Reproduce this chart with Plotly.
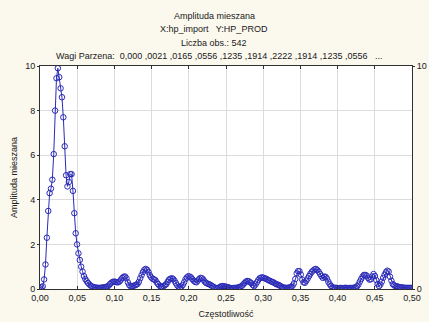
import plotly.graph_objects as go

# Cross-amplitude estimate, one value per Fourier frequency k/N (N = 542)
n_obs = 542
amplitude = [
    0.03, 0.08, 0.12, 0.43, 1.10, 2.30, 3.50, 4.30, 4.50, 4.90,
    6.05, 8.00, 9.45, 9.90, 9.50, 9.00, 8.60, 7.70, 6.40, 5.10,
    4.60, 4.80, 5.15, 5.15, 4.40, 3.40, 2.50, 2.00, 1.60, 1.30,
    1.00, 0.78, 0.58, 0.45, 0.35, 0.27, 0.20, 0.15, 0.11, 0.08,
    0.07, 0.06, 0.05, 0.05, 0.05, 0.06, 0.07, 0.08, 0.09, 0.11,
    0.15, 0.22, 0.28, 0.32, 0.33, 0.32, 0.30, 0.30, 0.34, 0.42,
    0.50, 0.55, 0.56, 0.48, 0.30, 0.18, 0.12, 0.12, 0.14, 0.16,
    0.19, 0.22, 0.32, 0.48, 0.62, 0.76, 0.86, 0.90, 0.86, 0.76,
    0.62, 0.52, 0.46, 0.43, 0.40, 0.30, 0.22, 0.15, 0.10, 0.10,
    0.13, 0.17, 0.22, 0.32, 0.42, 0.46, 0.48, 0.45, 0.37, 0.26,
    0.16, 0.10, 0.07, 0.10, 0.18, 0.30, 0.44, 0.52, 0.57, 0.56,
    0.52, 0.44, 0.37, 0.32, 0.30, 0.38, 0.45, 0.50, 0.48, 0.42,
    0.33, 0.27, 0.24, 0.22, 0.19, 0.15, 0.11, 0.07, 0.05, 0.03,
    0.05, 0.09, 0.12, 0.13, 0.12, 0.11, 0.09, 0.08, 0.06, 0.04,
    0.04, 0.04, 0.05, 0.05, 0.06, 0.08, 0.10, 0.14, 0.20, 0.27,
    0.33, 0.36, 0.35, 0.30, 0.26, 0.18, 0.13, 0.20, 0.30, 0.40,
    0.48, 0.51, 0.52, 0.50, 0.47, 0.45, 0.41, 0.38, 0.35, 0.32,
    0.30, 0.26, 0.22, 0.20, 0.18, 0.14, 0.10, 0.07, 0.06, 0.05,
    0.05, 0.06, 0.07, 0.10, 0.15, 0.25, 0.45, 0.70, 0.80, 0.80,
    0.65, 0.42, 0.30, 0.28, 0.37, 0.47, 0.58, 0.68, 0.77, 0.83,
    0.88, 0.90, 0.85, 0.78, 0.68, 0.58, 0.50, 0.55, 0.55, 0.47,
    0.33, 0.22, 0.14, 0.08, 0.06, 0.05, 0.05, 0.04, 0.04, 0.05,
    0.04, 0.04, 0.05, 0.05, 0.04, 0.04, 0.05, 0.04, 0.05, 0.06,
    0.08, 0.12, 0.20, 0.33, 0.45, 0.56, 0.63, 0.63, 0.60, 0.50,
    0.42, 0.44, 0.56, 0.67, 0.58, 0.40, 0.22, 0.13, 0.20, 0.33,
    0.50, 0.63, 0.75, 0.82, 0.78, 0.55, 0.37, 0.22, 0.16, 0.13,
    0.12, 0.10, 0.08, 0.07, 0.07, 0.06, 0.05, 0.05, 0.05, 0.05,
    0.05, 0.05,
]
frequency = [k / n_obs for k in range(len(amplitude))]

x_ticks = [0.00, 0.05, 0.10, 0.15, 0.20, 0.25, 0.30, 0.35, 0.40, 0.45, 0.50]
y_ticks = [0, 2, 4, 6, 8, 10]
right_ticks = [0, 10]

title_lines = [
    "Amplituda mieszana",
    "X:hp_import   Y:HP_PROD",
    "Liczba obs.: 542",
    "Wagi Parzena:  0,000 ,0021 ,0165 ,0556 ,1235 ,1914 ,2222 ,1914 ,1235 ,0556   ...",
]
title_x = [0.469, 0.469, 0.469, 0.48]

blue = "#2a2ab8"
frame = "#303030"
grid = "#dcdcdc"
font_family = "Liberation Sans, Arial, sans-serif"
fsize = 9

fig = go.Figure()
fig.add_trace(go.Scatter(
    x=frequency, y=amplitude, mode="lines+markers",
    line=dict(color=blue, width=1),
    marker=dict(symbol="circle-open", size=5.5, color=blue, line=dict(width=1)),
    showlegend=False, hoverinfo="x+y",
))
# Companion trace so the right-hand axis is drawn
fig.add_trace(go.Scatter(
    x=frequency, y=amplitude, yaxis="y2", mode="lines",
    line=dict(width=0), opacity=0, showlegend=False, hoverinfo="skip",
))

for i, line in enumerate(title_lines):
    fig.add_annotation(
        text=line, xref="paper", yref="paper", x=title_x[i],
        y=1, yshift=50 - 13.4 * i, yanchor="middle", xanchor="center",
        showarrow=False, font=dict(size=fsize, color="#202020", family=font_family),
    )

fig.update_layout(
    width=429, height=322,
    margin=dict(l=40, r=17, t=66, b=33, autoexpand=False),
    paper_bgcolor="#fbf8ee",
    plot_bgcolor="#ffffff",
    separators=", ",
    font=dict(family=font_family, size=fsize, color="#202020"),
    xaxis=dict(
        range=[0, 0.5], tickvals=x_ticks, tickformat=".2f", automargin=False,
        showgrid=True, gridcolor=grid, gridwidth=1, zeroline=False,
        showline=True, linecolor=frame, linewidth=1, mirror="ticks",
        ticks="inside", ticklen=3, tickcolor=frame,
        title=dict(text="Częstotliwość", font=dict(size=fsize), standoff=8),
    ),
    yaxis=dict(
        range=[0, 10], tickvals=y_ticks, tickformat="d", automargin=False,
        showgrid=True, gridcolor=grid, gridwidth=1, zeroline=False,
        showline=True, linecolor=frame, linewidth=1, mirror=True,
        ticks="outside", ticklen=2, tickcolor=frame,
        title=dict(text="Amplituda mieszana", font=dict(size=fsize), standoff=6),
    ),
    yaxis2=dict(
        range=[0, 10], tickvals=right_ticks, overlaying="y", side="right",
        automargin=False, showgrid=False, zeroline=False, showline=False,
        ticks="outside", ticklen=2, tickcolor=frame,
    ),
)

fig.write_html("out.html")
